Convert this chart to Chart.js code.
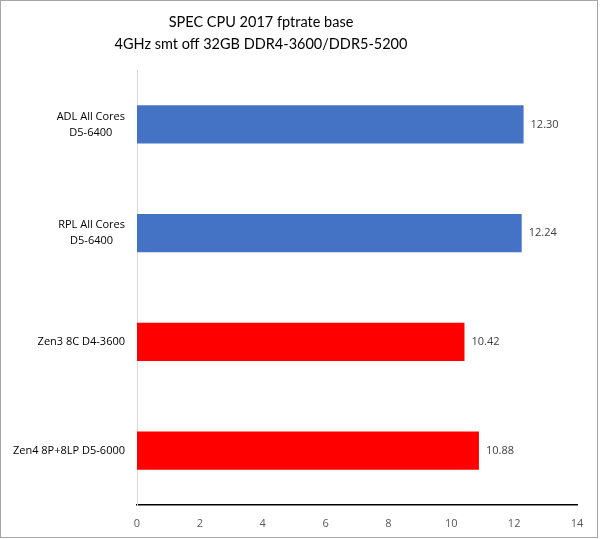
<!DOCTYPE html>
<html lang="en">
  <head>
    <meta charset="UTF-8" />
    <title>SPEC CPU 2017 fptrate base</title>
    <style>
      html, body {
        margin: 0;
        padding: 0;
        background: #fff;
      }
      #wrap {
        width: 600px;
        height: 539px;
        position: relative;
      }
    </style>
  </head>
  <body>
    <div id="wrap">
      <canvas id="barChart" width="600" height="539"></canvas>
    </div>

    <script src="https://cdn.jsdelivr.net/npm/chart.js@4"></script>
    <script>
      const categories = [
        ["ADL All Cores", "D5-6400"],
        ["RPL All Cores", "D5-6400"],
        "Zen3 8C D4-3600",
        "Zen4 8P+8LP D5-6000",
      ];
      const scores = [12.3, 12.24, 10.42, 10.88];
      const barColors = ["#4472C4", "#4472C4", "#FF0000", "#FF0000"];
      const titleLines = [
        "SPEC CPU 2017 fptrate base",
        "4GHz smt off 32GB DDR4-3600/DDR5-5200",
      ];

      const fontFamily = "'Open Sans', 'Noto Sans', sans-serif";

      // title (off-centre like the original), value labels,
      // centred category labels and the grey frame
      const extras = {
        id: "extras",
        afterDatasetsDraw(chart) {
          const ctx = chart.ctx;
          const meta = chart.getDatasetMeta(0);
          ctx.save();

          ctx.font = "14.5px Lato, sans-serif";
          ctx.fillStyle = "#000";
          ctx.textAlign = "center";
          ctx.textBaseline = "middle";
          titleLines.forEach((t, i) => ctx.fillText(t, 261, 22 + i * 22));

          ctx.font = "11px " + fontFamily;
          ctx.fillStyle = "#404040";
          ctx.textAlign = "left";
          meta.data.forEach((bar, i) => {
            ctx.fillText(scores[i].toFixed(2), bar.x + 7, bar.y);
          });

          // y labels: block right aligned to the axis, lines centred inside it
          const yScale = chart.scales.y;
          const right = yScale.right - 12;
          ctx.fillStyle = "#000";
          ctx.textAlign = "center";
          categories.forEach((label, i) => {
            const lines = Array.isArray(label) ? label : [label];
            const w = Math.max(...lines.map((l) => ctx.measureText(l).width));
            const cx = right - w / 2;
            const y0 = yScale.getPixelForTick(i) - ((lines.length - 1) * 16) / 2;
            lines.forEach((l, j) => ctx.fillText(l, cx, y0 + j * 16));
          });
          ctx.restore();
        },
        afterDraw(chart) {
          const ctx = chart.ctx;
          ctx.save();
          ctx.strokeStyle = "#a6a6a6";
          ctx.lineWidth = 1;
          ctx.strokeRect(0.5, 0.5, chart.width - 3, chart.height - 2);
          ctx.restore();
        },
      };

      new Chart("barChart", {
        type: "bar",
        data: {
          labels: categories,
          datasets: [
            {
              data: scores,
              backgroundColor: barColors,
              borderWidth: 0,
              categoryPercentage: 1,
              barPercentage: 0.35,
            },
          ],
        },
        options: {
          indexAxis: "y",
          responsive: false,
          animation: false,
          devicePixelRatio: 1,
          layout: { padding: { left: 0, right: 23, top: 70, bottom: 0 } },
          plugins: {
            legend: { display: false },
            tooltip: { enabled: false },
            title: { display: false },
          },
          scales: {
            x: {
              min: 0,
              max: 14,
              ticks: {
                stepSize: 2,
                color: "#595959",
                font: { family: fontFamily, size: 11 },
                padding: 12,
              },
              grid: { display: false, drawTicks: false },
              border: { display: true, color: "#000", width: 1.5 },
              afterFit(scale) {
                scale.height = 34;
              },
            },
            y: {
              ticks: {
                color: "transparent",
                font: { family: fontFamily, size: 11 },
                padding: 12,
              },
              grid: { display: false, drawTicks: false },
              border: { display: true, color: "#d9d9d9", width: 1 },
              afterFit(scale) {
                scale.width = 137;
              },
            },
          },
        },
        plugins: [extras],
      });
    </script>
  </body>
</html>
